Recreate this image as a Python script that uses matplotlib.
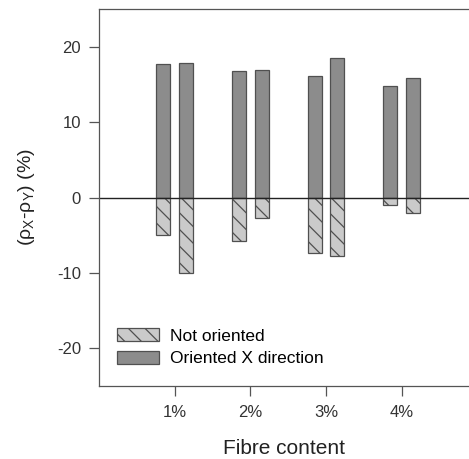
import numpy as np
import matplotlib
matplotlib.use("Agg")
import matplotlib.pyplot as plt
from matplotlib.patches import Patch

plt.rcParams['font.family'] = ['Liberation Sans', 'DejaVu Sans']
plt.rcParams['mathtext.default'] = 'regular'
plt.rcParams['axes.unicode_minus'] = False
plt.rcParams['hatch.linewidth'] = 0.9

# Datos
categorias = ["1%", "2%", "3%", "4%"]
orientado_a = [17.7, 16.75, 16.1, 14.8]
orientado_b = [17.8, 16.9, 18.5, 15.9]
no_orientado_a = [-5.0, -5.8, -7.3, -1.05]
no_orientado_b = [-10.0, -2.75, -7.8, -2.1]

x = np.arange(1, len(categorias) + 1)
ancho = 0.185
desp = 0.148

gris_osc = '#8c8c8c'
gris_cla = '#cacaca'
borde = '#505050'

fig = plt.figure(figsize=(4.69, 4.59), dpi=100)
ax = fig.add_axes([99 / 469, (459 - 386) / 459, 1 - 99 / 469, (386 - 9) / 459])

for xs, pos, neg in [(x - desp, orientado_a, no_orientado_a), (x + desp, orientado_b, no_orientado_b)]:
    ax.bar(xs, pos, width=ancho, color=gris_osc, edgecolor=borde, linewidth=0.9)
    ax.bar(xs, neg, width=ancho, color=gris_cla, edgecolor=borde, linewidth=0.9, hatch='\\\\')

ax.axhline(0, color='#222222', linewidth=1.0)

ax.set_xlim(0, 4.89)
ax.set_ylim(-25, 25)
ax.set_xticks(x)
ax.set_xticklabels(categorias)
ax.set_yticks([-20, -10, 0, 10, 20])

for s in ['left', 'top', 'bottom']:
    ax.spines[s].set_color('#555555')
    ax.spines[s].set_linewidth(0.9)
ax.spines['right'].set_visible(False)

ax.tick_params(axis='y', direction='out', length=7, width=0.9, color='#555555', labelsize=12, labelcolor='#333333', pad=6)
ax.tick_params(axis='x', direction='out', length=7, width=0.9, color='#555555', labelsize=12, labelcolor='#333333', pad=7)

ax.set_xlabel("Fibre content", fontsize=15, color='#222222', labelpad=13)
ax.set_ylabel(r"($\rho_{X}$-$\rho_{Y}$) (%)", fontsize=14, color='#222222', labelpad=14)

handles = [Patch(facecolor=gris_cla, edgecolor=borde, hatch='\\\\', linewidth=0.9),
           Patch(facecolor=gris_osc, edgecolor=borde, linewidth=0.9)]
ax.legend(handles, ["Not oriented", "Oriented X direction"], loc='lower left',
          bbox_to_anchor=(0.017, 0.02), frameon=False, fontsize=12.5,
          handlelength=2.4, handleheight=0.75, handletextpad=0.6, labelspacing=0.42,
          borderpad=0.2)

fig.savefig("out.png", dpi=100)
